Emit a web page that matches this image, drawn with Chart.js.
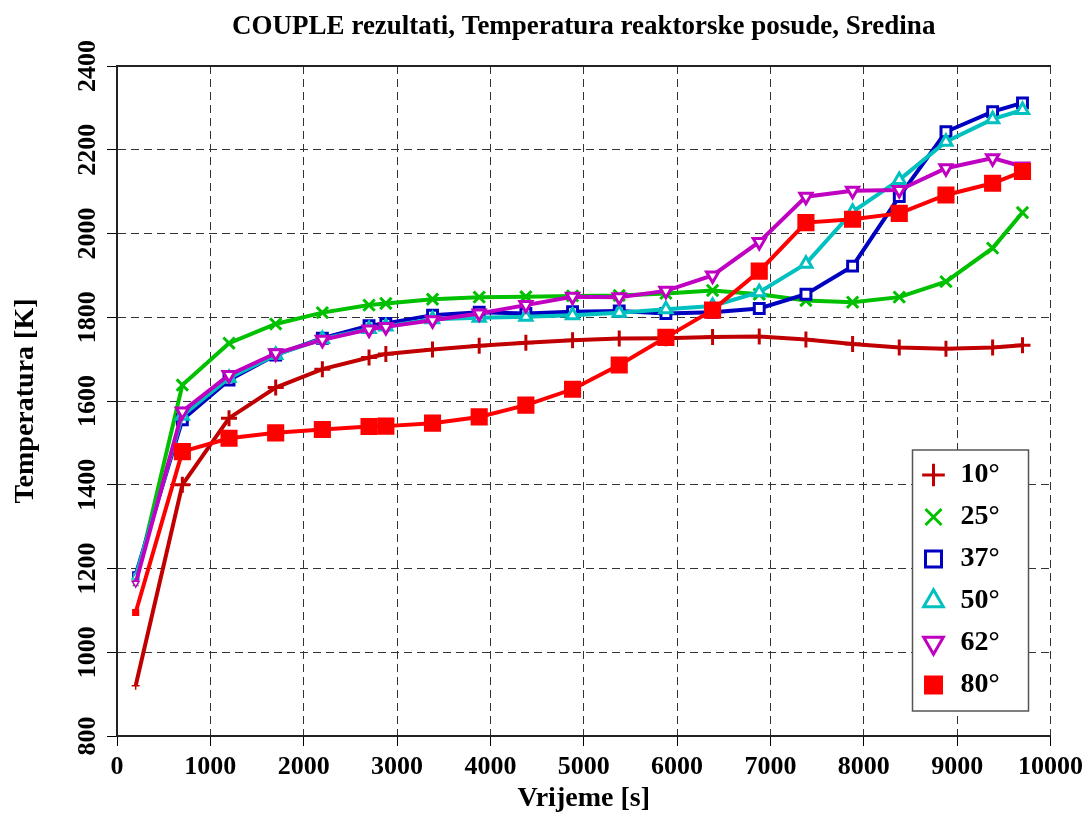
<!DOCTYPE html>
<html>
<head>
<meta charset="utf-8">
<script src="https://cdn.jsdelivr.net/npm/chart.js@4.4.1/dist/chart.umd.min.js"></script>
<style>
  html, body { margin: 0; padding: 0; background: #fff; }
  #wrap { width: 1089px; height: 816px; position: relative; }
</style>
</head>
<body>
<div id="wrap"><canvas id="chart"></canvas></div>
<script>
// vrijeme [s] i temperature [K] za svaki ugao
const timeS = [200, 700, 1200, 1700, 2200, 2700, 2880, 3380, 3880, 4380, 4880, 5380, 5880, 6380, 6880, 7380, 7880, 8380, 8880, 9380, 9700];
const t10 = [920, 1400, 1559, 1632, 1676, 1704, 1712, 1723, 1732, 1739, 1745, 1749, 1750, 1753, 1754, 1747, 1736, 1728, 1725, 1728, 1733];
const t25 = [1165, 1638, 1738, 1784, 1811, 1829, 1833, 1843, 1848, 1849, 1851, 1852, 1857, 1864, 1855, 1840, 1836, 1848, 1885, 1965, 2050];
const t37 = [1185, 1555, 1650, 1710, 1750, 1780, 1785, 1805, 1812, 1809, 1813, 1815, 1809, 1812, 1821, 1855, 1922, 2088, 2243, 2291, 2312];
const t50 = [1180, 1565, 1655, 1710, 1748, 1772, 1778, 1795, 1799, 1801, 1805, 1811, 1819, 1827, 1860, 1928, 2052, 2128, 2219, 2273, 2295];
const t62 = [1165, 1575, 1662, 1714, 1746, 1771, 1777, 1793, 1809, 1829, 1849, 1848, 1863, 1900, 1980, 2088, 2102, 2104, 2156, 2180, 2160];
const t80 = [1095, 1479, 1511, 1524, 1532, 1539, 1540, 1547, 1562, 1590, 1628, 1686, 1752, 1817, 1910, 2026, 2034, 2048, 2092, 2120, 2148];
const seriesLabels = ['10°', '25°', '37°', '50°', '62°', '80°'];

const xTicks = { min: 0, max: 10000, step: 1000 };
const yTicks = { min: 800, max: 2400, step: 200 };

Chart.defaults.font.family = "'Liberation Serif', 'Times New Roman', serif";
Chart.defaults.font.weight = 'bold';
Chart.defaults.color = '#000';

function toPoints(arr) {
    return arr.map((v, i) => ({ x: timeS[i], y: v }));
}

// stil serija (boja, marker)
const styles = [
    { color: '#C00000', point: 'cross', fill: '#C00000', r: 8 },
    { color: '#00C000', point: 'crossRot', fill: '#00C000', r: 8 },
    { color: '#0000C0', point: 'rect', fill: '#ffffff', r: 7 },
    { color: '#00C0C0', point: 'triangle', fill: '#ffffff', r: 7 },
    { color: '#C000C0', point: 'triangle', fill: '#ffffff', r: 7, rot: 180 },
    { color: '#FF0000', point: 'rect', fill: '#FF0000', r: 10 }
];
const allSeries = [t10, t25, t37, t50, t62, t80];

const datasets = allSeries.map((arr, i) => {
    const s = styles[i];
    return {
        label: seriesLabels[i],
        data: toPoints(arr),
        borderColor: s.color,
        backgroundColor: s.fill,
        borderWidth: 4,
        tension: 0,
        pointStyle: s.point,
        pointRotation: s.rot || 0,
        pointBorderColor: s.color,
        pointBackgroundColor: s.fill,
        pointRadius: ctx => ctx.dataIndex === 0 ? 4 : s.r,
        pointBorderWidth: ctx => ctx.dataIndex === 0 ? 1.5 : 3,
        order: 6 - i
    };
});

// legenda unutar grafika, sa okvirom
const legendBox = {
    id: 'legendBox',
    afterLayout(chart) {
        const lg = chart.legend, a = chart.chartArea;
        lg.left = a.right - 144;
        lg.top = a.bottom - 289;
        lg.right = lg.left + 135;
        lg.bottom = lg.top + 280;
    },
    afterDraw(chart) {
        const a = chart.chartArea, c = chart.ctx;
        const bx = a.right - 138, by = a.bottom - 286;
        c.save();
        c.fillStyle = '#fff';
        c.fillRect(bx, by, 116, 261);
        c.strokeStyle = '#555';
        c.lineWidth = 1.5;
        c.strokeRect(bx, by, 116, 261);
        c.restore();
        chart.legend.draw();
    }
};

const gridOpts = { color: '#333', lineWidth: 1, tickLength: 10, tickColor: '#000', tickWidth: 1, tickBorderDash: [] };
const borderOpts = { dash: [8, 5], color: '#222', width: 2 };
const plainNum = v => String(v);

new Chart(document.getElementById('chart'), {
    type: 'line',
    data: { datasets: datasets },
    plugins: [legendBox],
    options: {
        responsive: true,
        maintainAspectRatio: false,
        animation: false,
        layout: { padding: { left: 8, right: 38, top: 0, bottom: 0 } },
        plugins: {
            title: {
                display: true,
                text: 'COUPLE rezultati, Temperatura reaktorske posude, Sredina',
                fullSize: false,
                font: { size: 27, weight: 'bold' },
                padding: { top: 11, bottom: 22.6 }
            },
            legend: {
                position: 'chartArea',
                align: 'start',
                labels: {
                    font: { size: 28, weight: 'bold' },
                    color: '#000',
                    usePointStyle: true,
                    boxWidth: 26,
                    boxHeight: 16,
                    padding: 14,
                    sort: (a, b) => a.datasetIndex - b.datasetIndex,
                    generateLabels: chart => Chart.defaults.plugins.legend.labels.generateLabels(chart)
                        .map(l => Object.assign(l, { lineWidth: 3 }))
                }
            },
            tooltip: { enabled: false }
        },
        scales: {
            x: {
                type: 'linear',
                min: xTicks.min,
                max: xTicks.max,
                ticks: { stepSize: xTicks.step, padding: 6, maxRotation: 0, autoSkip: false, callback: plainNum, font: { size: 26, weight: 'bold' } },
                grid: gridOpts,
                border: borderOpts,
                title: { display: true, text: 'Vrijeme [s]', font: { size: 28, weight: 'bold' }, padding: { top: 0, bottom: 0 } },
                afterFit: s => { s.height = 80; }
            },
            xTop: {
                type: 'linear',
                position: 'top',
                min: xTicks.min,
                max: xTicks.max,
                ticks: { display: false },
                grid: { drawOnChartArea: false, drawTicks: false },
                border: { color: '#222', width: 2 }
            },
            y: {
                min: yTicks.min,
                max: yTicks.max,
                ticks: { stepSize: yTicks.step, minRotation: 90, maxRotation: 90, crossAlign: 'center', padding: -7, autoSkip: false, callback: plainNum, font: { size: 26, weight: 'bold' } },
                grid: gridOpts,
                border: borderOpts,
                title: { display: true, text: 'Temperatura [K]', font: { size: 28, weight: 'bold' }, padding: { top: 1, bottom: 0 } },
                afterFit: s => { s.width = 109; }
            }
        }
    }
});
</script>
</body>
</html>
